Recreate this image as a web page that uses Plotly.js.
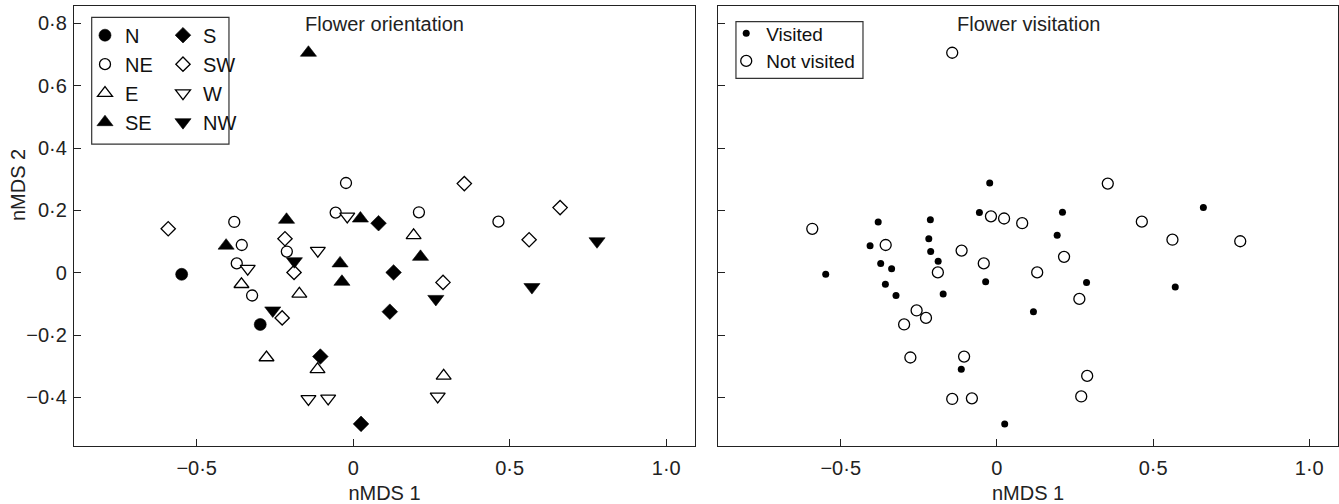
<!DOCTYPE html>
<html>
<head>
<meta charset="utf-8">
<script src="https://cdn.plot.ly/plotly-3.0.1.min.js"></script>
<style>
  html, body { margin: 0; padding: 0; background: #fff; }
  #chart { width: 1339px; height: 504px; }
</style>
</head>
<body>
<div id="chart"></div>
<script>
// ---------------- data ----------------
const orientation = [
  'N','N',
  'NE','NE','NE','NE','NE','NE','NE','NE','NE',
  'E','E','E','E','E','E',
  'SE','SE','SE','SE','SE','SE','SE',
  'S','S','S','S','S',
  'SW','SW','SW','SW','SW','SW','SW','SW',
  'W','W','W','W','W','W',
  'NW','NW','NW','NW','NW'
];
const nmds1 = [
  -0.548, -0.297,
  -0.380, -0.023, -0.056, 0.210, 0.464, -0.356, -0.212, -0.372, -0.323,
  0.193, -0.357, -0.172, -0.277, -0.114, 0.289,
  -0.143, -0.213, 0.023, -0.406, -0.042, -0.036, 0.215,
  0.081, 0.129, 0.117, -0.105, 0.025,
  -0.591, 0.355, 0.661, 0.562, -0.218, -0.189, -0.227, 0.287,
  -0.019, -0.113, -0.337, -0.143, -0.080, 0.270,
  0.779, -0.188, -0.257, 0.264, 0.571
];
const nmds2 = [
  -0.005, -0.166,
  0.163, 0.288, 0.193, 0.194, 0.164, 0.089, 0.068, 0.030, -0.073,
  0.120, -0.037, -0.068, -0.272, -0.310, -0.331,
  0.706, 0.170, 0.174, 0.087, 0.030, -0.029, 0.051,
  0.159, 0.001, -0.125, -0.269, -0.485,
  0.141, 0.286, 0.209, 0.106, 0.109, 0.001, -0.145, -0.031,
  0.181, 0.071, 0.013, -0.405, -0.403, -0.397,
  0.101, 0.037, -0.121, -0.084, -0.046
];
const visited = [
  1, 0,
  1, 1, 1, 1, 0, 0, 1, 1, 1,
  1, 1, 1, 0, 1, 0,
  0, 1, 0, 1, 0, 1, 0,
  0, 0, 1, 0, 1,
  0, 0, 1, 0, 1, 0, 0, 1,
  0, 0, 1, 0, 0, 0,
  0, 1, 0, 0, 1
];
const orientationOrder = ['N','NE','E','SE','S','SW','W','NW'];
const visitationLabels = ['Visited','Not visited'];

const xTickVals = [-0.5, 0, 0.5, 1.0];
const xTickText = ['\u22120\u00b75', '0', '0\u00b75', '1\u00b70'];
const yTickVals = [-0.4, -0.2, 0, 0.2, 0.4, 0.6, 0.8];
const yTickText = ['\u22120\u00b74', '\u22120\u00b72', '0', '0\u00b72', '0\u00b74', '0\u00b76', '0\u00b78'];

// ---------------- styling ----------------
const FONT = 'Liberation Sans, Arial, Helvetica, sans-serif';
const symbolStyle = {
  N:  {symbol: 'circle',        fill: '#000', size: 12},
  NE: {symbol: 'circle',        fill: '#fff', size: 11},
  E:  {symbol: 'triangle-up',   fill: '#fff', size: 13},
  SE: {symbol: 'triangle-up',   fill: '#000', size: 14},
  S:  {symbol: 'diamond',       fill: '#000', size: 12},
  SW: {symbol: 'diamond',       fill: '#fff', size: 11},
  W:  {symbol: 'triangle-down', fill: '#fff', size: 13},
  NW: {symbol: 'triangle-down', fill: '#000', size: 14}
};

const traces = [];
orientationOrder.forEach(function (o, k) {
  const xs = [], ys = [];
  orientation.forEach(function (v, i) { if (v === o) { xs.push(nmds1[i]); ys.push(nmds2[i]); } });
  const st = symbolStyle[o];
  traces.push({
    type: 'scatter', mode: 'markers', name: o,
    x: xs, y: ys, xaxis: 'x', yaxis: 'y',
    legend: k < 4 ? 'legend' : 'legend2',
    marker: {symbol: st.symbol, size: st.size, color: st.fill,
             line: {color: '#000', width: st.fill === '#fff' ? 1.3 : 0.6}},
    hoverinfo: 'x+y+name'
  });
});

visitationLabels.forEach(function (lab, k) {
  const flag = k === 0 ? 1 : 0;
  const xs = [], ys = [];
  visited.forEach(function (v, i) { if (v === flag) { xs.push(nmds1[i]); ys.push(nmds2[i]); } });
  traces.push({
    type: 'scatter', mode: 'markers', name: lab,
    x: xs, y: ys, xaxis: 'x2', yaxis: 'y2',
    legend: 'legend3',
    marker: flag ? {symbol: 'circle', size: 7, color: '#000', line: {color: '#000', width: 0}}
                 : {symbol: 'circle', size: 11, color: '#fff', line: {color: '#000', width: 1.3}},
    hoverinfo: 'x+y+name'
  });
});

const xRange = [-0.892, 1.092];
const yRange = [-0.556, 0.856];

function xAxis(domain, anchor) {
  return {
    domain: domain, anchor: anchor, range: xRange,
    showgrid: false, zeroline: false,
    showline: true, mirror: true, linecolor: '#222', linewidth: 1.2,
    ticks: 'inside', ticklen: 7, tickwidth: 1, tickcolor: '#222',
    tickvals: xTickVals, ticktext: xTickText, ticklabelstandoff: 4,
    tickfont: {family: FONT, size: 20, color: '#222'},
    title: {text: 'nMDS 1', font: {family: FONT, size: 20, color: '#222'}, standoff: 11}
  };
}
function yAxis(anchor, showLabels) {
  return {
    anchor: anchor, range: yRange,
    showgrid: false, zeroline: false,
    showline: true, mirror: true, linecolor: '#222', linewidth: 1.2,
    ticks: 'inside', ticklen: 7, tickwidth: 1, tickcolor: '#222',
    tickvals: yTickVals, ticktext: yTickText, showticklabels: showLabels,
    ticklabelstandoff: 2,
    tickfont: {family: FONT, size: 20, color: '#222'}
  };
}

const legendBase = {
  xref: 'paper', yref: 'paper', xanchor: 'left', yanchor: 'top',
  bgcolor: 'rgba(0,0,0,0)', borderwidth: 0, traceorder: 'normal',
  font: {family: FONT, size: 20, color: '#111'}
};

const layout = {
  width: 1339, height: 504,
  margin: {l: 74, r: 1, t: 6, b: 58},
  paper_bgcolor: '#fff', plot_bgcolor: '#fff',
  font: {family: FONT, color: '#111'},
  xaxis: xAxis([0, 0.4913], 'y'),
  yaxis: yAxis('x', true),
  xaxis2: xAxis([0.5097, 1], 'y2'),
  yaxis2: yAxis('x2', false),
  legend:  Object.assign({}, legendBase, {x: 0.0087, y: 0.978}),
  legend2: Object.assign({}, legendBase, {x: 0.0704, y: 0.978}),
  legend3: Object.assign({}, legendBase, {x: 0.5160, y: 0.981, font: {family: FONT, size: 19, color: '#111'}}),
  shapes: [
    {type: 'rect', xref: 'paper', yref: 'paper', x0: 0.014, x1: 0.1226, y0: 0.686, y1: 0.974,
     line: {color: '#333', width: 1.2}, fillcolor: 'rgba(0,0,0,0)'},
    {type: 'rect', xref: 'paper', yref: 'paper', x0: 0.5237, x1: 0.6242, y0: 0.8357, y1: 0.9643,
     line: {color: '#333', width: 1.2}, fillcolor: 'rgba(0,0,0,0)'}
  ],
  annotations: [
    {text: 'Flower orientation', xref: 'x domain', yref: 'paper', x: 0.5, y: 0.9886,
     xanchor: 'center', yanchor: 'top', showarrow: false,
     font: {family: FONT, size: 20, color: '#222'}},
    {text: 'Flower visitation', xref: 'x2 domain', yref: 'paper', x: 0.5, y: 0.9886,
     xanchor: 'center', yanchor: 'top', showarrow: false,
     font: {family: FONT, size: 20, color: '#222'}},
    {text: 'nMDS 2', xref: 'paper', yref: 'paper', x: -0.0443, y: 0.593,
     xanchor: 'center', yanchor: 'middle', textangle: -90, showarrow: false,
     font: {family: FONT, size: 20, color: '#222'}}
  ]
};

Plotly.newPlot('chart', traces, layout, {displayModeBar: false, responsive: false});
</script>
</body>
</html>
